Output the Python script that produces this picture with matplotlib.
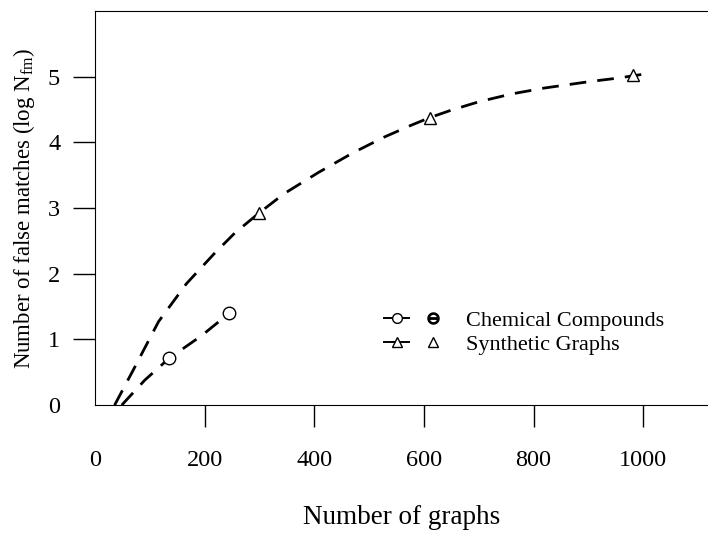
import matplotlib
matplotlib.use("Agg")
import matplotlib.pyplot as plt
from matplotlib.lines import Line2D
from matplotlib.legend_handler import HandlerTuple

plt.rcParams["font.family"] = ["Liberation Serif", "DejaVu Serif"]

# measured points
synth_x = [300, 611, 982]
synth_y = [2.93, 4.38, 5.03]
chem_x = [135, 245]
chem_y = [0.71, 1.40]

# dashed fitted curves
synth_curve_x = [36, 71, 116, 167, 218, 255, 300, 345, 407, 470, 527, 576, 611, 649, 700, 760, 820, 904, 953, 1000]
synth_curve_y = [0.0, 0.55, 1.27, 1.85, 2.31, 2.62, 2.93, 3.22, 3.54, 3.84, 4.08, 4.26, 4.38, 4.49, 4.62, 4.74, 4.83, 4.93, 4.98, 5.04]
chem_curve_x = [49, 91, 135, 195, 245]
chem_curve_y = [0.0, 0.38, 0.71, 1.06, 1.40]

xticks = [0, 200, 400, 600, 800, 1000]
yticks = [0, 1, 2, 3, 4, 5]

fig = plt.figure(figsize=(7.08, 5.33), dpi=100)
ax = fig.add_axes([0.134, 0.240, 0.866, 0.739])

dash = dict(color="black", lw=2.0, dashes=(6, 4))
ax.plot(synth_curve_x, synth_curve_y, **dash)
ax.plot(chem_curve_x, chem_curve_y, **dash)
ax.plot(synth_x, synth_y, ls="none", marker="^", ms=9, mfc="white", mec="black", mew=1.0)
ax.plot(chem_x, chem_y, ls="none", marker="o", ms=9, mfc="white", mec="black", mew=1.0)

ax.set_xlim(0, 1118)
ax.set_ylim(0, 6)
ax.set_xticks(xticks)
ax.set_yticks(yticks)
ax.spines["right"].set_visible(False)
ax.tick_params(axis="both", direction="out", length=16, width=1, labelsize=17.5)
ax.tick_params(axis="x", pad=16)
ax.tick_params(axis="y", pad=9)
ax.xaxis.get_major_ticks()[0].tick1line.set_visible(False)
ax.yaxis.get_major_ticks()[0].tick1line.set_visible(False)

ax.set_xlabel("Number of graphs", fontsize=19.5, labelpad=25)
ax.set_ylabel(r"Number of false matches (log N$_{\mathregular{fm}}$)", fontsize=16.5, labelpad=8)

h_c1 = Line2D([], [], color="black", lw=1.4, marker="o", ms=7, mfc="white")
h_c2 = Line2D([], [], ls="none", marker=r"$\ominus$", ms=8, color="black")
h_t1 = Line2D([], [], color="black", lw=1.4, marker="^", ms=7, mfc="white")
h_t2 = Line2D([], [], ls="none", marker="^", ms=7, mfc="white", mec="black")
ax.legend([(h_c1, h_c2), (h_t1, h_t2)], ["Chemical Compounds", "Synthetic Graphs"],
          handler_map={tuple: HandlerTuple(ndivide=None, pad=0.5)},
          frameon=False, fontsize=16, loc="upper left", bbox_to_anchor=(0.453, 0.268),
          handlelength=2.8, handletextpad=0.9, labelspacing=0.15, borderpad=0)

fig.savefig("out.png", dpi=100)
